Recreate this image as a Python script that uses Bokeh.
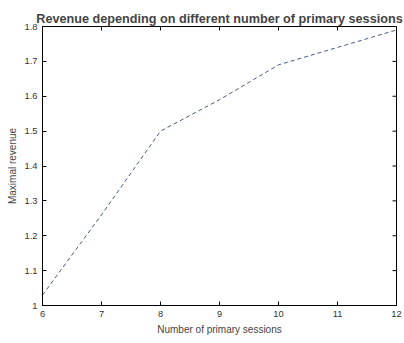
import math
from bokeh.plotting import figure
from bokeh.models import ColumnDataSource, LinearAxis, Range1d, FixedTicker
from bokeh.embed import file_html
from bokeh.resources import INLINE

sessions = [6, 7, 8, 9, 10, 11, 12]
revenue = [1.03, 1.26, 1.50, 1.59, 1.69, 1.74, 1.79]
x_ticks = [6, 7, 8, 9, 10, 11, 12]
y_ticks = [1.0, 1.1, 1.2, 1.3, 1.4, 1.5, 1.6, 1.7, 1.8]

src = ColumnDataSource(data=dict(x=sessions, y=revenue))

p = figure(width=404, height=343, output_backend="svg", toolbar_location=None,
           x_range=Range1d(6, 12), y_range=Range1d(1.0, 1.8),
           min_border_left=42, min_border_right=8, min_border_top=26, min_border_bottom=38,
           x_axis_location=None, y_axis_location=None)
p.title.text = "Revenue depending on different number of primary sessions"
p.title.align = "center"
p.title.text_font = "Liberation Sans"
p.title.text_font_size = "9.5pt"
p.title.text_font_style = "bold"
p.title.offset = 0
p.title.standoff = 2
p.grid.visible = False
p.outline_line_color = "black"
p.outline_line_width = 1
p.background_fill_color = "white"
p.border_fill_color = "white"

def mk(loc, ticks, label):
    ax = LinearAxis(ticker=FixedTicker(ticks=ticks))
    ax.major_tick_in = 4
    ax.major_tick_out = 0
    ax.minor_tick_in = 0
    ax.minor_tick_out = 0
    ax.axis_line_color = "black"
    ax.major_tick_line_color = "black"
    ax.major_label_text_font = "Liberation Sans"
    ax.major_label_text_font_size = "7pt"
    ax.major_label_text_color = "#333333"
    ax.axis_label = label
    ax.axis_label_text_font = "Liberation Sans"
    ax.axis_label_text_font_size = "7.5pt"
    ax.axis_label_text_font_style = "normal"
    ax.axis_label_standoff = 4
    p.add_layout(ax, loc)
    return ax

mk("below", x_ticks, "Number of primary sessions")
mk("left", y_ticks, "Maximal revenue")

# inward ticks on the top and right edges of the box (half of each mark is clipped)
top_src = ColumnDataSource(data=dict(x=x_ticks, y=[p.y_range.end] * len(x_ticks)))
right_src = ColumnDataSource(data=dict(x=[p.x_range.end] * len(y_ticks), y=y_ticks))
p.scatter("x", "y", source=top_src, marker="dash", size=8, angle=math.pi / 2,
          line_color="black", line_width=1)
p.scatter("x", "y", source=right_src, marker="dash", size=8,
          line_color="black", line_width=1)

p.line("x", "y", source=src, line_color="#4a5a78", line_width=1, line_dash="4 3")

open("out.html", "w").write(file_html(p, INLINE))
